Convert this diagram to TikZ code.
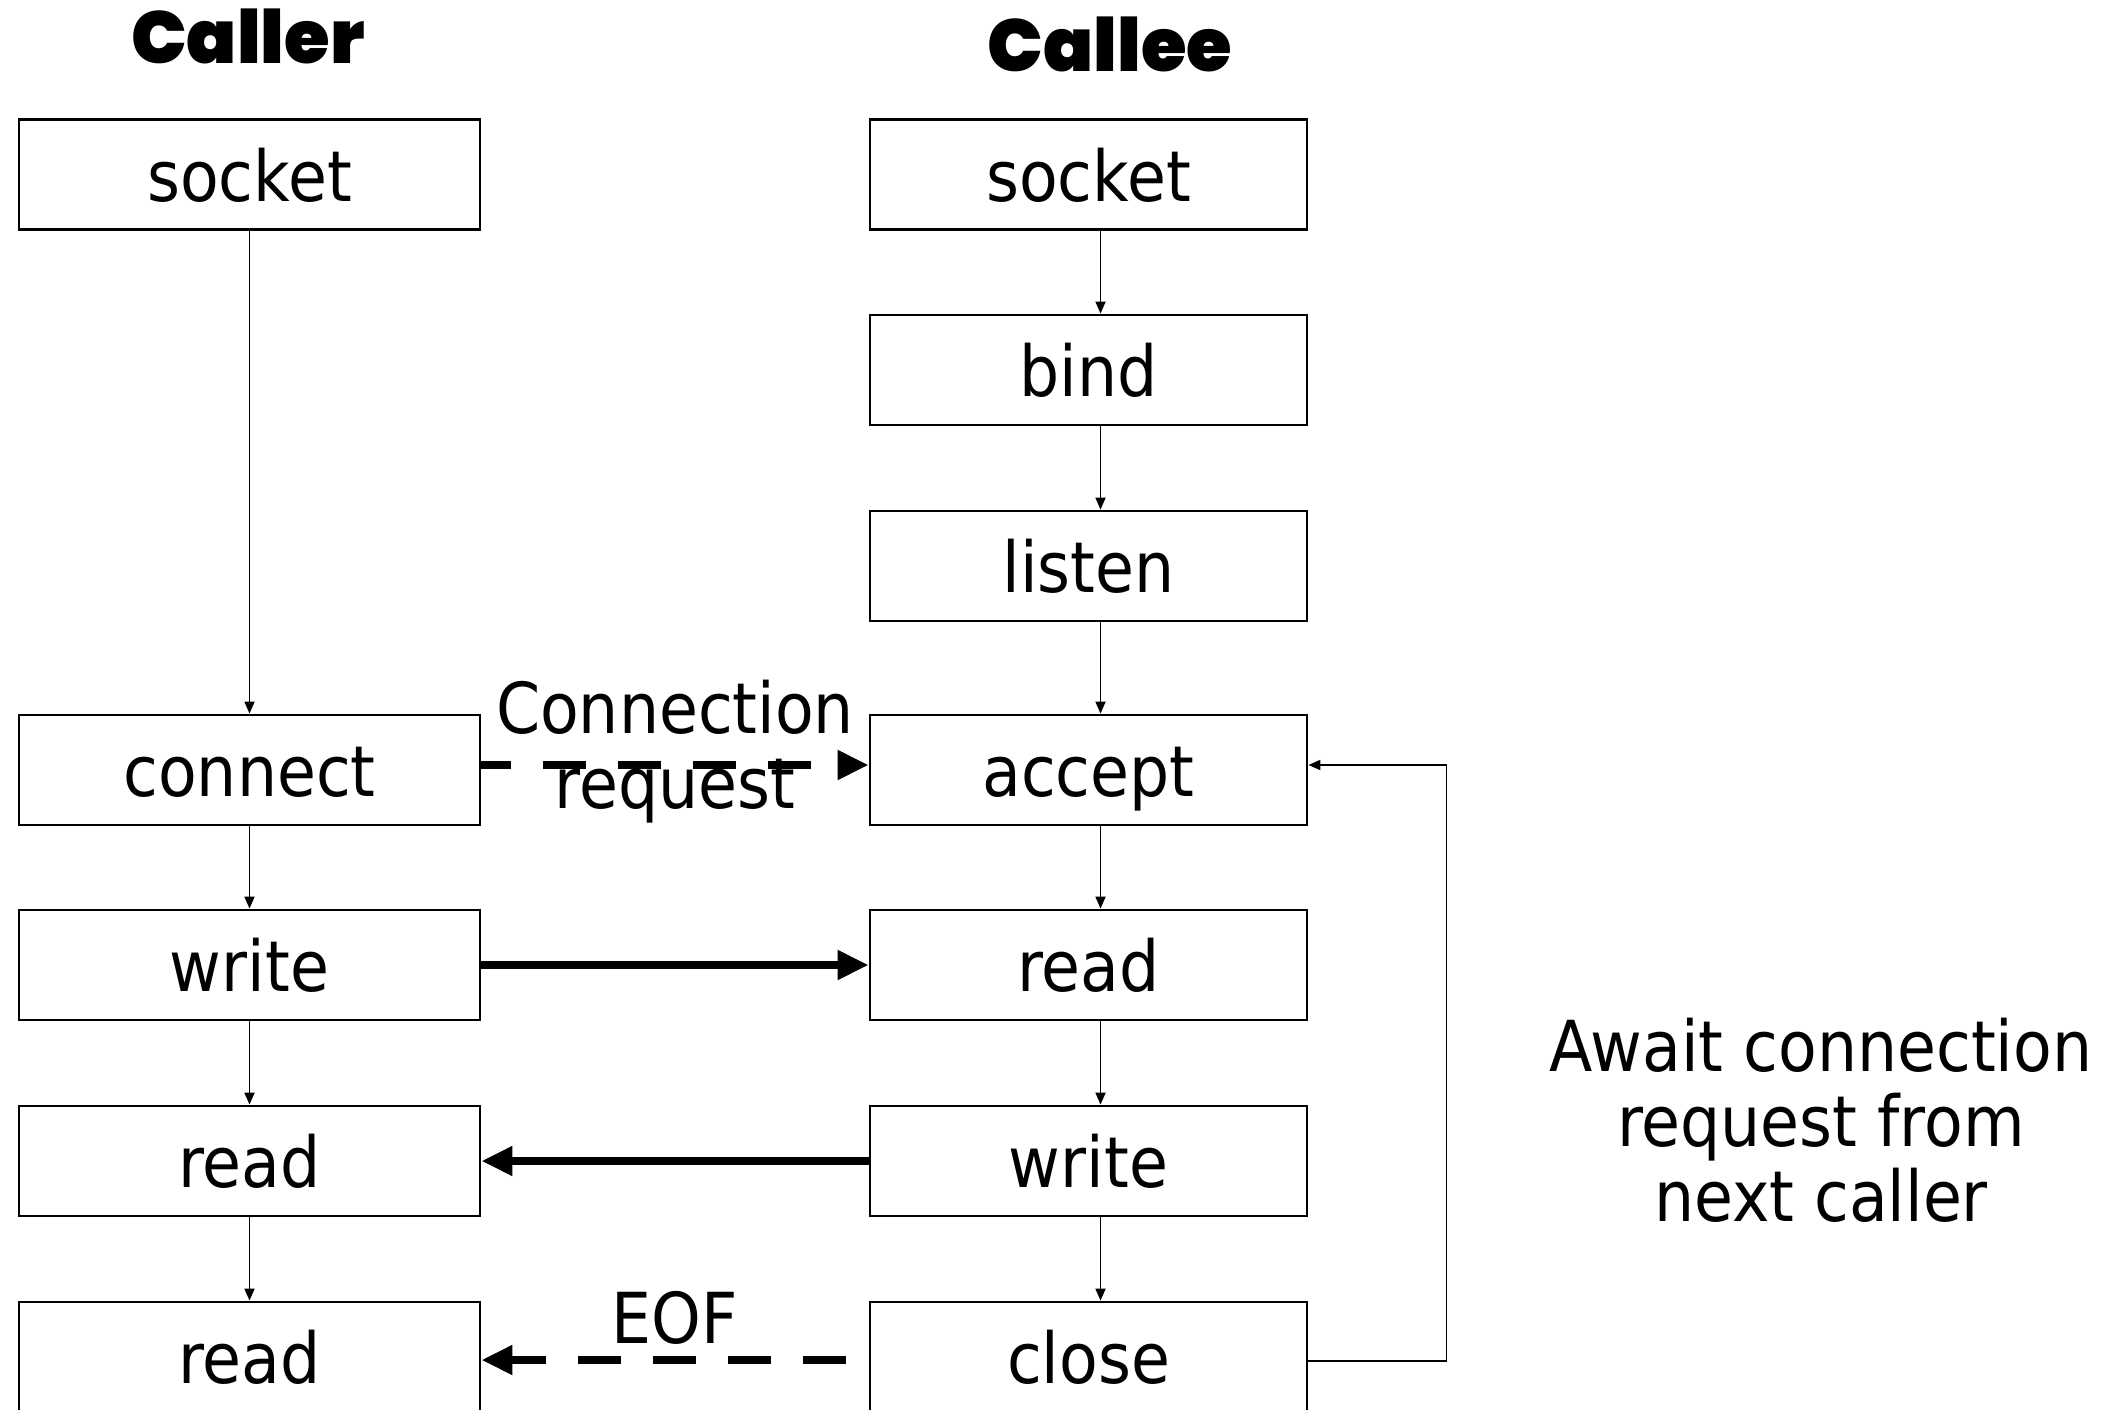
\documentclass[tikz,border=0pt]{standalone}
\usepackage{fontspec}
\setmainfont{DejaVu Sans}[FakeStretch=0.9]
\newfontfamily\titlefont{Poppins Black}
\usetikzlibrary{arrows.meta, positioning}
\tikzset{
  every picture/.style={font=\fontsize{20}{21.3}\selectfont, line width=0.5pt},
  box/.style={draw, line width=0.8pt, minimum height=1.1cm, inner sep=0pt, text height=15.2pt, text depth=0pt},
  callerbox/.style={box, minimum width=4.61cm},
  calleebox/.style={box, minimum width=4.37cm},
  title/.style={font=\titlefont\fontsize{21}{24}\selectfont, anchor=base},
  flow/.style={-{Triangle[length=1.2mm, width=1mm]}, line width=0.5pt},
  msg/.style={-{Triangle[length=3.1mm, width=2.8mm]}, line width=2.3pt},
  msgdash/.style={msg, dash pattern=on 0.43cm off 0.32cm, dash phase=#1},
  note/.style={align=center},
}

\begin{document}
\begin{tikzpicture}
  \useasboundingbox (0,0) rectangle (21.02,-14.09);
  \node[title] (ttlcaller) at (2.48,-0.64) {Caller};
  \node[title] (ttlcallee) at (11.10,-0.72) {Callee};
  % caller side
  \node[callerbox] (csock) at (2.495,-1.745) {socket};
  \node[callerbox] (cconn) at (2.495,-7.70) {connect};
  \node[callerbox] (cwrite) at (2.495,-9.65) {write};
  \node[callerbox] (cread) at (2.495,-11.61) {read};
  \node[callerbox] (cread2) at (2.495,-13.57) {read};
  \draw[flow] (csock) -- (cconn); \draw[flow] (cconn) -- (cwrite);
  \draw[flow] (cwrite) -- (cread); \draw[flow] (cread) -- (cread2);
  % callee side
  \node[calleebox] (esock) at (10.885,-1.745) {socket};
  \node[calleebox] (ebind) at (10.885,-3.70) {bind};
  \node[calleebox] (elisten) at (10.885,-5.66) {listen};
  \node[calleebox] (eaccept) at (10.885,-7.70) {accept};
  \node[calleebox] (eread) at (10.885,-9.65) {read};
  \node[calleebox] (ewrite) at (10.885,-11.61) {write};
  \node[calleebox] (eclose) at (10.885,-13.57) {close};
  \draw[flow] ([xshift=0.12cm]esock.south) -- ([xshift=0.12cm]ebind.north);
  \draw[flow] ([xshift=0.12cm]ebind.south) -- ([xshift=0.12cm]elisten.north);
  \draw[flow] ([xshift=0.12cm]elisten.south) -- ([xshift=0.12cm]eaccept.north);
  \draw[flow] ([xshift=0.12cm]eaccept.south) -- ([xshift=0.12cm]eread.north);
  \draw[flow] ([xshift=0.12cm]eread.south) -- ([xshift=0.12cm]ewrite.north);
  \draw[flow] ([xshift=0.12cm]ewrite.south) -- ([xshift=0.12cm]eclose.north);
  \draw[flow] ([yshift=-0.04cm]eclose.east) -- ++(1.38,0) |- ([yshift=0.05cm]eaccept.east);
  % messages between the two
  \draw[msgdash=0.13cm] ([yshift=0.05cm]cconn.east) -- node[note, yshift=0.13cm]{Connection\\request} ([yshift=0.05cm]eaccept.west);
  \draw[msg] (cwrite) -- (eread);
  \draw[msg] (ewrite) -- (cread);
  \draw[msgdash=0.52cm] ([yshift=-0.03cm]eclose.west) -- node[note, above]{EOF} ([yshift=-0.03cm]cread2.east);
  \node[note] (await) at (18.21,-11.20) {Await connection\\request from\\next caller};
\end{tikzpicture}
\end{document}
